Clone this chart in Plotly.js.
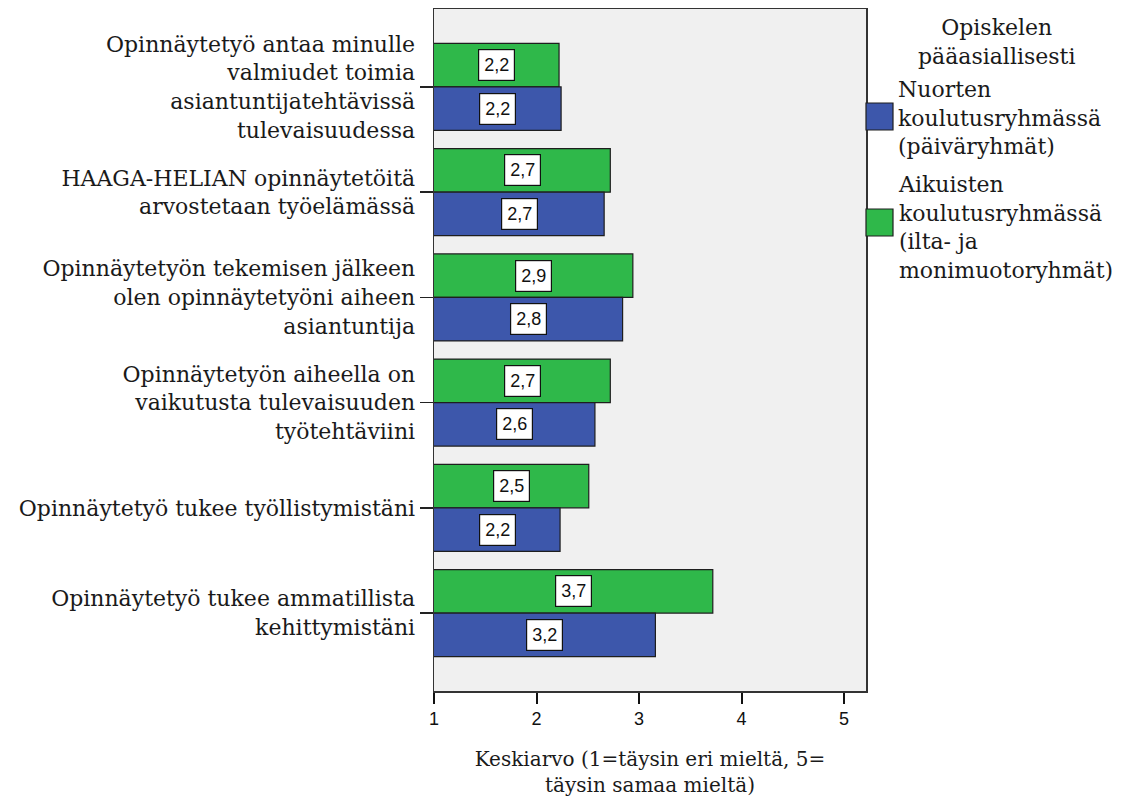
<!DOCTYPE html>
<html>
<head>
<meta charset="utf-8">
<script src="https://cdn.plot.ly/plotly-3.0.1.min.js"></script>
<style>html,body{margin:0;padding:0;background:#fff;}#chart{width:1134px;height:801px;}</style>
</head>
<body>
<div id="chart"></div>
<script>
const categories = [
  "Opinnäytetyö antaa minulle<br>valmiudet toimia<br>asiantuntijatehtävissä<br>tulevaisuudessa",
  "HAAGA-HELIAN opinnäytetöitä<br>arvostetaan työelämässä",
  "Opinnäytetyön tekemisen jälkeen<br>olen opinnäytetyöni aiheen<br>asiantuntija",
  "Opinnäytetyön aiheella on<br>vaikutusta tulevaisuuden<br>työtehtäviini",
  "Opinnäytetyö tukee työllistymistäni",
  "Opinnäytetyö tukee ammatillista<br>kehittymistäni"
];
const seriesNames = [
  "Nuorten<br>koulutusryhmässä<br>(päiväryhmät)",
  "Aikuisten<br>koulutusryhmässä<br>(ilta- ja<br>monimuotoryhmät)"
];
const legendTitle = "Opiskelen<br>pääasiallisesti";
const nuortenValues = [2.24, 2.66, 2.84, 2.57, 2.23, 3.16];
const aikuistenValues = [2.22, 2.72, 2.94, 2.72, 2.51, 3.72];
const xTickVals = [1, 2, 3, 4, 5];
const xTitle = "Keskiarvo (1=täysin eri mieltä, 5=<br>täysin samaa mieltä)";

const BLUE = "#3d57ab";
const GREEN = "#2fb84a";
const SERIF = "DejaVu Serif, serif";
const SANS = "Liberation Sans, Arial, sans-serif";

const W = 1134, H = 801;
const M = {l: 434, r: 268, t: 9, b: 110};
const PW = W - M.l - M.r, PH = H - M.t - M.b;
const bargap = 0.173;
const pxPerUnit = 102.5;

const idx = categories.map((c, i) => i);
const fmt = v => v.toFixed(1).replace('.', ',');
const half = (1 - bargap) / 4;

const traces = [
  {type: 'bar', orientation: 'h', name: seriesNames[1], y: idx, x: aikuistenValues,
   marker: {color: GREEN, line: {color: '#1e1e1e', width: 1.2}}, hoverinfo: 'x'},
  {type: 'bar', orientation: 'h', name: seriesNames[0], y: idx, x: nuortenValues,
   marker: {color: BLUE, line: {color: '#1e1e1e', width: 1.2}}, hoverinfo: 'x'}
];

const annotations = [];
const labelFont = {family: SANS, size: 18, color: '#111'};
aikuistenValues.forEach((v, i) => annotations.push({
  x: (1 + v) / 2, y: i - half, xref: 'x', yref: 'y', text: fmt(v), showarrow: false,
  font: labelFont, bgcolor: '#fff', bordercolor: '#111', borderwidth: 1.2, borderpad: 5
}));
nuortenValues.forEach((v, i) => annotations.push({
  x: (1 + v) / 2, y: i + half, xref: 'x', yref: 'y', text: fmt(v), showarrow: false,
  font: labelFont, bgcolor: '#fff', bordercolor: '#111', borderwidth: 1.2, borderpad: 5
}));

// manual legend (paper coordinates)
const px2x = px => (px - M.l) / PW;
const py2y = py => 1 - (py - M.t) / PH;
const legFont = {family: SERIF, size: 22, color: '#1a1a1a'};
annotations.push({xref: 'paper', yref: 'paper', x: px2x(996), y: py2y(42), xanchor: 'center', yanchor: 'middle',
  text: legendTitle, showarrow: false, align: 'center', font: legFont});
annotations.push({xref: 'paper', yref: 'paper', x: px2x(896), y: py2y(118), xanchor: 'left', yanchor: 'middle',
  text: seriesNames[0], showarrow: false, align: 'left', font: legFont});
annotations.push({xref: 'paper', yref: 'paper', x: px2x(896), y: py2y(228), xanchor: 'left', yanchor: 'middle',
  text: seriesNames[1], showarrow: false, align: 'left', font: legFont});
const shapes = [
  {type: 'rect', xref: 'paper', yref: 'paper', x0: px2x(866), x1: px2x(893), y0: py2y(103), y1: py2y(130),
   fillcolor: BLUE, line: {color: '#1e1e1e', width: 1.2}},
  {type: 'rect', xref: 'paper', yref: 'paper', x0: px2x(866), x1: px2x(893), y0: py2y(209), y1: py2y(236),
   fillcolor: GREEN, line: {color: '#1e1e1e', width: 1.2}}
];

const layout = {
  width: W, height: H,
  margin: M,
  paper_bgcolor: '#fff',
  plot_bgcolor: '#f0f0f0',
  barmode: 'group',
  bargap: bargap,
  bargroupgap: 0,
  showlegend: false,
  xaxis: {
    range: [1, 1 + PW / pxPerUnit],
    tickvals: xTickVals,
    ticktext: xTickVals.map(String),
    ticks: 'outside', ticklen: 11, tickwidth: 2, tickcolor: '#111',
    showgrid: false, zeroline: false,
    showline: true, linecolor: '#333', linewidth: 1.5, mirror: true,
    tickfont: {family: SANS, size: 18, color: '#111'},
    title: {text: xTitle, font: {family: SERIF, size: 20, color: '#1a1a1a'}, standoff: 24},
    fixedrange: true
  },
  yaxis: {
    range: [categories.length - 1 + 0.741, -0.741],
    tickvals: idx,
    ticktext: categories,
    ticks: 'outside', ticklen: 13, tickwidth: 1.5, tickcolor: '#222',
    showgrid: false, zeroline: false,
    showline: true, linecolor: '#333', linewidth: 1.5, mirror: true,
    tickfont: {family: SERIF, size: 22, color: '#1a1a1a'},
    fixedrange: true
  },
  annotations: annotations,
  shapes: shapes
};

Plotly.newPlot('chart', traces, layout, {displayModeBar: false, staticPlot: true});
</script>
</body>
</html>
